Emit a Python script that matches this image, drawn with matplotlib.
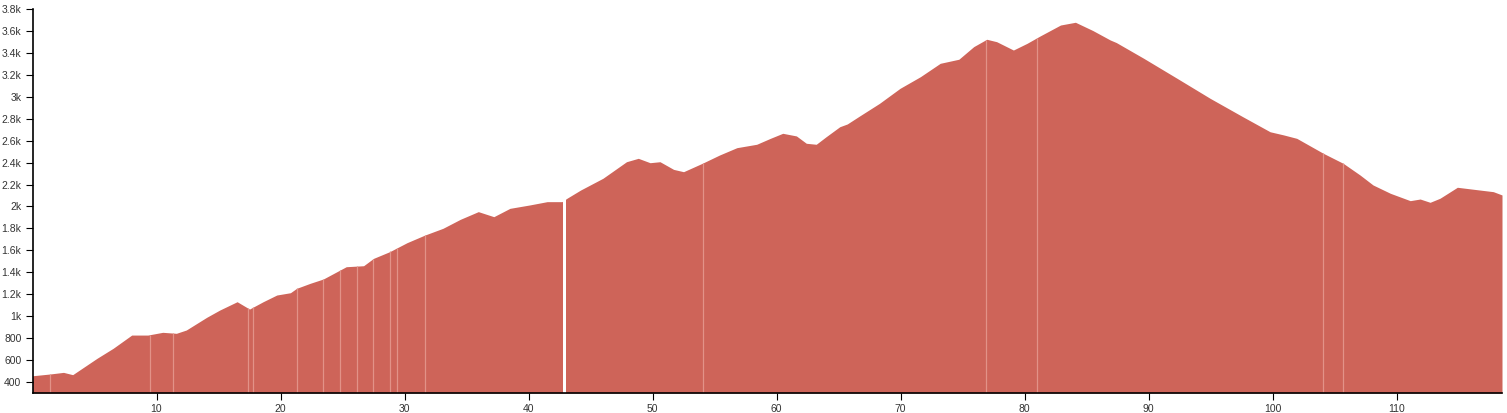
import matplotlib
matplotlib.use("Agg")
import matplotlib.pyplot as plt
import numpy as np
from matplotlib.ticker import FuncFormatter, FixedLocator

# distance (km) and elevation (m)
distance_km = [0.0, 1.4, 2.5, 3.24, 5.2, 6.5, 8.0, 9.3, 10.5, 11.6, 12.4, 14.05, 15.1, 16.5,
               17.5, 18.6, 19.7, 20.8, 21.3, 22.4, 23.45, 25.3, 26.7, 27.5, 28.8, 30.2, 31.65,
               33.1, 34.5, 35.95, 37.2, 38.5, 40.1, 41.5, 42.7, 43.1, 44.2, 46.0, 47.9, 48.85,
               49.8, 50.6, 51.7, 52.5, 54.0, 55.4, 56.8, 58.4, 59.5, 60.5, 61.6, 62.4, 63.2,
               64.0, 65.1, 65.7, 66.7, 68.3, 69.96, 71.6, 73.2, 74.7, 75.9, 76.95, 77.75, 79.1,
               80.2, 81.25, 82.9, 84.1, 85.5, 86.9, 87.4, 89.6, 92.3, 94.96, 97.6, 99.8, 100.9,
               101.95, 104.1, 105.7, 107.05, 108.1, 109.5, 111.1, 111.9, 112.7, 113.5, 114.9,
               116.2, 117.8, 118.5]
elevation_m = [457, 473, 488, 467, 616, 707, 828, 828, 853, 844, 874, 990, 1056, 1132,
               1065, 1132, 1193, 1214, 1254, 1300, 1339, 1451, 1460, 1527, 1588, 1670, 1740,
               1801, 1883, 1953, 1907, 1983, 2014, 2044, 2044, 2075, 2150, 2257, 2408, 2439,
               2399, 2408, 2338, 2317, 2393, 2469, 2536, 2567, 2621, 2667, 2643, 2576, 2567,
               2636, 2727, 2752, 2825, 2940, 3077, 3183, 3305, 3342, 3457, 3524, 3502, 3426,
               3487, 3554, 3654, 3679, 3604, 3518, 3494, 3351, 3168, 2986, 2818, 2681, 2652,
               2621, 2484, 2393, 2287, 2196, 2120, 2053, 2068, 2038, 2075, 2175,
               2157, 2135, 2105]

# positions (km) of thin gaps between bars, and the one wide gap
gap_km = [1.41, 9.48, 11.33, 17.38, 17.78, 21.33, 23.43, 24.8, 26.17, 27.46, 28.83, 29.4,
          31.65, 54.07, 76.9, 81.0, 104.07, 105.68]
wide_gap_km = (42.8, 43.04)

x_ticks = [10, 20, 30, 40, 50, 60, 70, 80, 90, 100, 110]
y_ticks = list(range(400, 3801, 200))

fig = plt.figure(figsize=(15.07, 4.13), dpi=100)
ax = fig.add_axes([32.5 / 1507, 20 / 413, (1502 - 32.5) / 1507, (393 - 9) / 413])

color = "#CE6459"
ax.fill_between(distance_km, elevation_m, 300, color=color, linewidth=0)
gap_tops = np.interp(gap_km, distance_km, elevation_m)
ax.vlines(gap_km, 300, gap_tops, color="#E29288", lw=0.9)
ax.axvspan(*wide_gap_km, color="white", lw=0)

ax.set_xlim(0, 118.5)
ax.set_ylim(300, 3800)

for s in ["top", "right"]:
    ax.spines[s].set_visible(False)
for s in ["left", "bottom"]:
    ax.spines[s].set_color("black")
    ax.spines[s].set_linewidth(1.2)
    ax.spines[s].set_zorder(5)


def kfmt(v, pos):
    if v >= 1000:
        s = f"{v/1000:.1f}".rstrip("0").rstrip(".")
        return s + "k"
    return f"{int(v)}"


ax.yaxis.set_major_locator(FixedLocator(y_ticks))
ax.yaxis.set_major_formatter(FuncFormatter(kfmt))
ax.xaxis.set_major_locator(FixedLocator(x_ticks))
ax.tick_params(axis="both", labelsize=7.5, labelcolor="#333333", length=5, width=0.8,
               direction="out", pad=3)
for lbl in ax.get_xticklabels() + ax.get_yticklabels():
    lbl.set_fontfamily(["Liberation Sans", "DejaVu Sans"])

fig.savefig("out.png", dpi=100, facecolor="white")
